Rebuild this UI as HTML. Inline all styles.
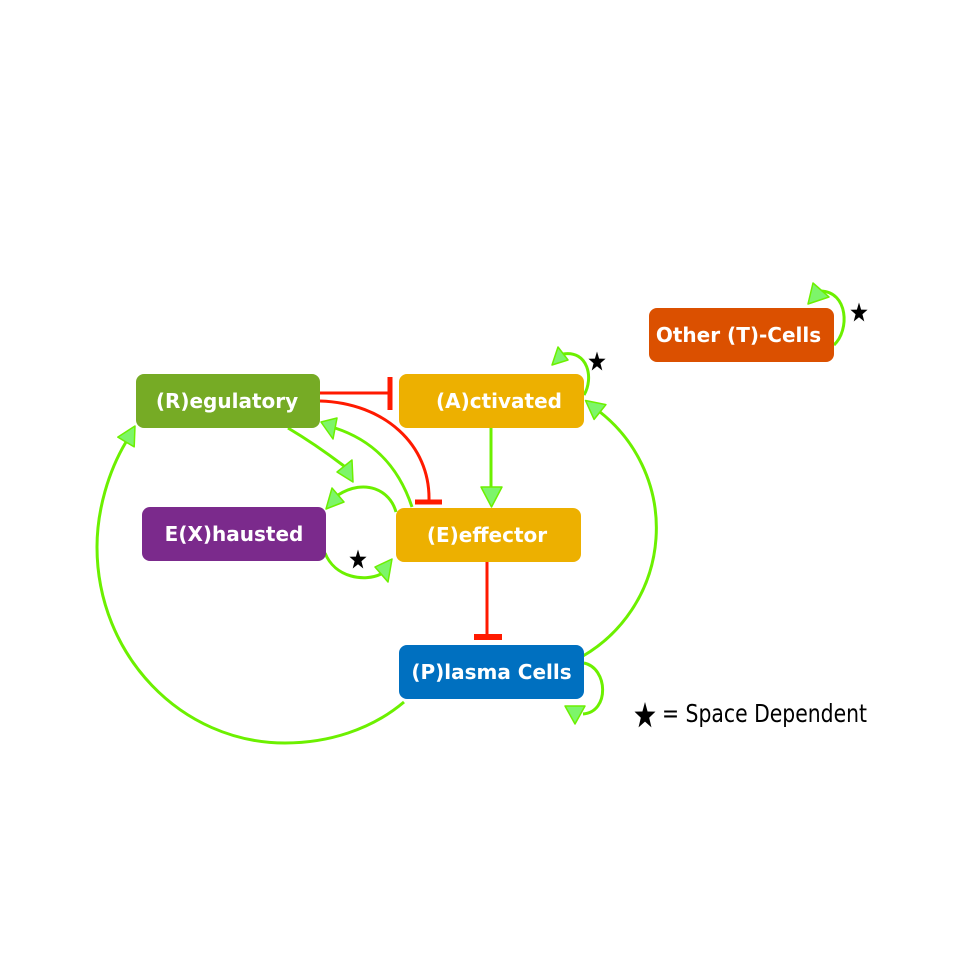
<!DOCTYPE html>
<html><head><meta charset="utf-8"><style>
html,body{margin:0;padding:0;background:#fff;}
svg{display:block;}
.lbl{font-family:"DejaVu Sans","Liberation Sans",sans-serif;font-weight:bold;font-size:20px;fill:#fff;}
</style></head><body>
<svg width="958" height="958" viewBox="0 0 958 958" xmlns="http://www.w3.org/2000/svg">
<defs>
<polygon id="star" points="0,-10 2.35,-3.24 9.51,-3.09 3.8,1.24 5.88,8.09 0,4 -5.88,8.09 -3.8,1.24 -9.51,-3.09 -2.35,-3.24"/>
</defs>
<rect width="958" height="958" fill="#fff"/>

<!-- green connectors -->
<g fill="none" stroke="#6cf000" stroke-width="3">
<path d="M404,702 C371,730 327.5,743 285,743 C181,743 97,655 97,547 C97,510 108.6,471 126,442"/>
<path d="M583,656 A148,148 0 0 0 600,412"/>
<path d="M584,663 C608,668 610,712 583,714"/>
<path d="M584,395 C594,378 588,350 563,354"/>
<path d="M834,345 C850,330 848,292 821,291"/>
<path d="M396,512 C390,490 365,478 338,495"/>
<path d="M325,553 C335,578 365,582 381,574"/>
<path d="M288,428 Q315,444 344,466"/>
<path d="M412,507 C398,465 372,440 335,428"/>
<line x1="491" y1="428" x2="491" y2="490"/>
</g>

<!-- red inhibitors -->
<g fill="none" stroke="#ff1a00">
<path d="M320,393 L390,393" stroke-width="3"/>
<path d="M390,377 L390,410" stroke-width="5"/>
<path d="M320,401 C385,403 430,445 429,500" stroke-width="3"/>
<path d="M415,502 L442,502" stroke-width="5"/>
<path d="M487,562 L487,637" stroke-width="3"/>
<path d="M474,637 L502,637" stroke-width="6"/>
</g>

<!-- arrowheads -->
<g fill="#7df56a" stroke="#6cf000" stroke-width="1.5" stroke-linejoin="round">
<polygon points="135,426 134.2,446.9 117.8,437.1"/>
<polygon points="585.5,400.5 605.9,404.6 594.1,419.4"/>
<polygon points="565,706 585,706 575,724"/>
<polygon points="552,365 558,347 568,360"/>
<polygon points="808,304 813,283 829,297"/>
<polygon points="326,509 332,488 344,502"/>
<polygon points="392,559 375,567 388,582"/>
<polygon points="353,482 337,472 352,460"/>
<polygon points="321,422 337,418 333,439"/>
<polygon points="481,487 502,487 491.5,507"/>
</g>

<!-- boxes -->
<rect x="136" y="374" width="184" height="54" rx="8" fill="#76ab25"/>
<rect x="399" y="374" width="185" height="54" rx="8" fill="#edb000"/>
<rect x="142" y="507" width="184" height="54" rx="8" fill="#7b2a8c"/>
<rect x="396" y="508" width="185" height="54" rx="8" fill="#edb000"/>
<rect x="399" y="645" width="185" height="54" rx="8" fill="#0070c0"/>
<rect x="649" y="308" width="185" height="54" rx="8" fill="#db5000"/>

<text class="lbl" x="227" y="408" text-anchor="middle">(R)egulatory</text>
<text class="lbl" x="499" y="408" text-anchor="middle">(A)ctivated</text>
<text class="lbl" x="234" y="541" text-anchor="middle">E(X)hausted</text>
<text class="lbl" x="487" y="542" text-anchor="middle">(E)effector</text>
<text class="lbl" x="491.5" y="679" text-anchor="middle">(P)lasma Cells</text>
<text class="lbl" x="738.5" y="342" text-anchor="middle">Other (T)-Cells</text>

<!-- stars -->
<use href="#star" transform="translate(597,362) scale(0.9,1.05)" fill="#000"/>
<use href="#star" transform="translate(859,313) scale(0.9,1.05)" fill="#000"/>
<use href="#star" transform="translate(358,560) scale(0.9,1.05)" fill="#000"/>
<use href="#star" transform="translate(645,716) scale(1.1,1.4)" fill="#000"/>

<text x="662" y="722" font-family="DejaVu Sans, Liberation Sans, sans-serif" font-size="25" fill="#000" textLength="205" lengthAdjust="spacingAndGlyphs">= Space Dependent</text>
</svg>
</body></html>
